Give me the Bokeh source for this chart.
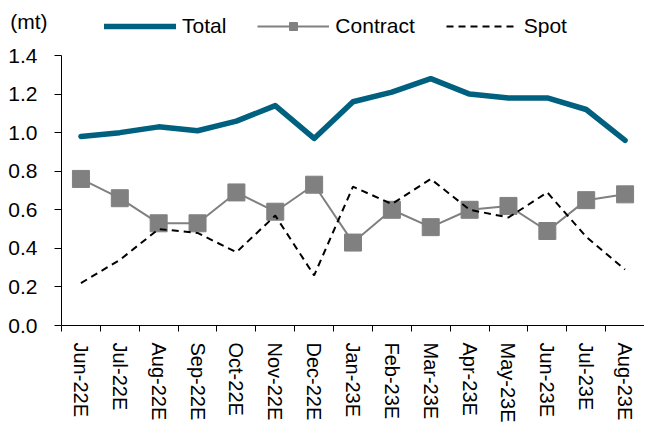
from bokeh.plotting import figure
from bokeh.layouts import column
from bokeh.models import FixedTicker, Legend, LegendItem, Range1d, ColumnDataSource, NumeralTickFormatter
from bokeh.embed import file_html
from bokeh.resources import INLINE

months = ["Jun-22E", "Jul-22E", "Aug-22E", "Sep-22E", "Oct-22E", "Nov-22E", "Dec-22E",
          "Jan-23E", "Feb-23E", "Mar-23E", "Apr-23E", "May-23E", "Jun-23E", "Jul-23E", "Aug-23E"]
total = [0.98, 1.00, 1.03, 1.01, 1.06, 1.14, 0.97, 1.16, 1.21, 1.28, 1.20, 1.18, 1.18, 1.12, 0.96]
contract = [0.76, 0.66, 0.53, 0.53, 0.69, 0.59, 0.73, 0.43, 0.60, 0.51, 0.60, 0.62, 0.49, 0.65, 0.68]
spot = [0.22, 0.34, 0.50, 0.48, 0.38, 0.57, 0.26, 0.72, 0.63, 0.76, 0.60, 0.56, 0.69, 0.46, 0.29]
y_ticks = [0.0, 0.2, 0.4, 0.6, 0.8, 1.0, 1.2, 1.4]
unit_label = "(mt)"

FONT = "Liberation Sans"
FS = "21px"
FS_X = "20px"
C_TOTAL = "#00607F"
C_CONTRACT = "#808080"
W = 644
LEFT = 61

TOTAL_STYLE = dict(line_color=C_TOTAL, line_width=5.5, line_join="round", line_cap="round")
CLINE_STYLE = dict(line_color=C_CONTRACT, line_width=2)
CMARK_STYLE = dict(marker="square", fill_color=C_CONTRACT, line_color=C_CONTRACT)
SPOT_STYLE = dict(line_color="black", line_width=2, line_dash="7 5")

xs = list(range(len(months)))
src = ColumnDataSource(dict(x=xs, total=total, contract=contract, spot=spot))
x_rng = Range1d(-0.5, len(months) - 0.5)

# ---------------- main chart ----------------
p = figure(width=W, height=394, output_backend="svg", toolbar_location=None,
           x_range=x_rng, y_range=Range1d(0, 1.4),
           min_border_left=LEFT, min_border_top=15, min_border_right=0, min_border_bottom=109)
p.outline_line_color = None
p.grid.visible = False
p.background_fill_color = "white"

p.line("x", "total", source=src, **TOTAL_STYLE)
p.line("x", "contract", source=src, **CLINE_STYLE)
p.scatter("x", "contract", source=src, size=17, **CMARK_STYLE)
p.line("x", "spot", source=src, **SPOT_STYLE)

xa = p.xaxis[0]
xa.ticker = FixedTicker(ticks=xs, minor_ticks=[i - 0.5 for i in range(len(months) + 1)])
xa.major_label_overrides = {i: m for i, m in enumerate(months)}
xa.major_tick_line_color = None
xa.major_tick_out = 0
xa.major_tick_in = 0
xa.minor_tick_line_color = "black"
xa.minor_tick_out = 6
xa.minor_tick_in = 0
xa.major_label_orientation = "vertical"
xa.major_label_standoff = 11
xa.axis_line_color = "black"
xa.major_label_text_font_size = FS_X

ya = p.yaxis[0]
ya.ticker = FixedTicker(ticks=y_ticks, minor_ticks=[])
ya.formatter = NumeralTickFormatter(format="0.0")
ya.major_tick_out = 7
ya.major_tick_in = 0
ya.major_label_standoff = 17
ya.axis_line_color = "black"
ya.major_tick_line_color = "black"
ya.major_label_text_font_size = FS

for ax in (xa, ya):
    ax.major_label_text_font = FONT
    ax.major_label_text_color = "black"

# ---------------- header: unit label + legend ----------------
# y range sits far above the data, so the header's own renderers only feed the legend
h = figure(width=W, height=40, output_backend="svg", toolbar_location=None,
           x_range=x_rng, y_range=Range1d(10, 11),
           x_axis_location=None, min_border_left=LEFT, min_border_right=0,
           min_border_top=0, min_border_bottom=0)
h.outline_line_color = None
h.grid.visible = False

l_total = h.line("x", "total", source=src, **TOTAL_STYLE)
l_cline = h.line("x", "contract", source=src, **CLINE_STYLE)
l_cmark = h.scatter("x", "contract", source=src, size=10, **CMARK_STYLE)
l_spot = h.line("x", "spot", source=src, **SPOT_STYLE)

hy = h.yaxis[0]
hy.ticker = FixedTicker(ticks=[10.47], minor_ticks=[])
hy.major_label_overrides = {10.47: unit_label}
hy.axis_line_color = None
hy.major_tick_line_color = None
hy.major_tick_out = 0
hy.major_tick_in = 0
hy.major_label_standoff = 14
hy.major_label_text_font = FONT
hy.major_label_text_font_size = FS
hy.major_label_text_color = "black"

legend = Legend(items=[LegendItem(label="Total", renderers=[l_total]),
                       LegendItem(label="Contract", renderers=[l_cline, l_cmark]),
                       LegendItem(label="Spot", renderers=[l_spot])],
                orientation="horizontal", location=(43, 2),
                glyph_width=72, glyph_height=20, label_standoff=6, spacing=31,
                padding=0, margin=0, border_line_color=None, background_fill_alpha=0,
                label_text_font=FONT, label_text_font_size=FS, label_text_color="black")
h.add_layout(legend)

open("out.html", "w").write(file_html(column(h, p), INLINE))
